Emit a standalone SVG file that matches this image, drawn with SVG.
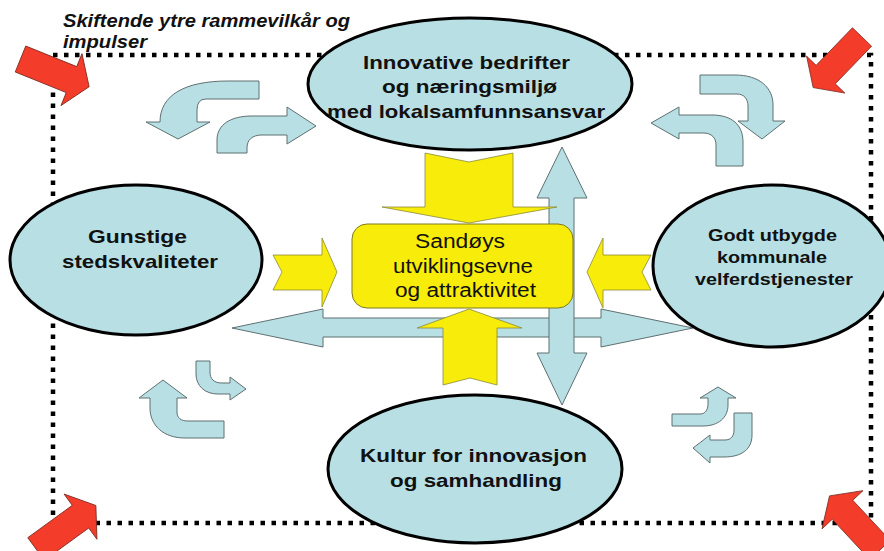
<svg xmlns="http://www.w3.org/2000/svg" width="884" height="551" viewBox="0 0 884 551">
<style>
.frame{fill:none;stroke:#000;stroke-width:4.5;stroke-dasharray:4.5 6.5}
.ell{fill:#b8dfe3;stroke:#000;stroke-width:3}
.blue{fill:#b8dfe3;stroke:#5f7072;stroke-width:1}
.yel{fill:#f8ec0a;stroke:#8a8a3a;stroke-width:0.8}
.box{fill:#f8ec0a;stroke:#7d7a20;stroke-width:1}
.red{fill:#f43c2a;stroke:#7a2a20;stroke-width:0.8}
.lbl{font-family:"Liberation Sans",Arial,sans-serif;font-weight:bold;font-size:19px;fill:#111;text-anchor:middle}
.ctr{font-family:"Liberation Sans",Arial,sans-serif;font-size:20px;fill:#111;text-anchor:middle}
.ttl{font-family:"Liberation Sans",Arial,sans-serif;font-weight:bold;font-style:italic;font-size:17.5px;fill:#111}
</style>
<defs>
<path id="redArrow" d="M0,-14 L55,-14 L55,-28 L74,0 L55,28 L55,14 L0,14 Z"/>
</defs>

<rect id="frame" class="frame" x="53" y="55" width="818" height="468"/>

<g id="title">
<text class="ttl" x="63" y="27" textLength="287" lengthAdjust="spacingAndGlyphs">Skiftende ytre rammevilkår og</text>
<text class="ttl" x="63" y="48" textLength="84" lengthAdjust="spacingAndGlyphs">impulser</text>
</g>

<g id="connectors">
<!-- cycle arrows -->
<path class="blue" d="M259,81 L259,99 L206,99 Q197,99 197,110 L197,122 L210,122 L178,139 L146,122 L160,122 C160,95 185,81 228,81 Z"/>
<path class="blue" d="M217,153 L217,140 C217,125 230,116 252,116 L287,116 L287,107 L316,126 L287,144 L287,135 L262,135 C252,135 247,140 247,148 L247,153 Z"/>
<path class="blue" d="M700,75 L735,75 C760,75 773,88 773,105 L773,121 L785,121 L762,139 L738,121 L748,121 L748,106 C748,99 744,94 737,94 L700,94 Z"/>
<path class="blue" d="M651,123 L679,107 L679,115 L712,115 C732,115 743,125 743,142 L743,166 L716,166 L716,145 C716,138 712,133 703,133 L679,133 L679,139 Z"/>
<path class="blue" d="M163,380 L187,398 L177,398 L177,412 C177,418 181,421 188,421 L224,421 L224,438 L185,438 C163,438 150,425 150,408 L150,398 L139,398 Z"/>
<path class="blue" d="M196,361 L210,361 L210,372 C210,379 214,383 222,383 L230,383 L230,377 L246,389 L230,400 L230,394 L218,394 C205,394 196,386 196,374 Z"/>
<path class="blue" d="M718,387 L736,398 L728,398 L728,405 C728,418 718,426 703,426 L672,426 L672,414 L700,414 C705,414 708,410 708,404 L708,398 L700,398 Z"/>
<path class="blue" d="M693,448 L710,435 L710,440 L725,440 C731,440 734,436 734,430 L734,413 L752,413 L752,435 C752,449 742,457 724,457 L710,457 L710,463 Z"/>
<!-- double arrows -->
<path class="blue" d="M232,328 L323,309 L323,318 L601,318 L601,309 L693,328 L601,347 L601,337 L323,337 L323,347 Z"/>
<path class="blue" d="M562,147 L587,198 L574,198 L574,353 L587,353 L562,405 L537,353 L549,353 L549,198 L537,198 Z"/>
<!-- yellow arrows -->
<path class="yel" d="M425,153 L469,162 L513,153 L513,207 L557,207 L469,223 L382,207 L425,207 Z"/>
<path class="yel" d="M469,309 L522,328 L497,328 L497,385 L470,378 L443,385 L443,328 L417,328 Z"/>
<path class="yel" d="M273,255 L322,255 L322,238 L337,272 L322,307 L322,290 L273,290 L282,272 Z"/>
<path class="yel" d="M651,255 L603,255 L603,238 L587,272 L603,308 L603,290 L651,290 L642,272 Z"/>
</g>

<g id="center">
<rect class="box" x="352" y="224" width="221" height="84" rx="15"/>
<text class="ctr" x="460" y="248" textLength="90" lengthAdjust="spacingAndGlyphs">Sandøys</text>
<text class="ctr" x="463" y="273" textLength="140" lengthAdjust="spacingAndGlyphs">utviklingsevne</text>
<text class="ctr" x="465.5" y="297" textLength="141" lengthAdjust="spacingAndGlyphs">og attraktivitet</text>
</g>

<g id="top-node">
<ellipse class="ell" cx="470" cy="84" rx="162" ry="66"/>
<text class="lbl" x="466.5" y="69" textLength="207" lengthAdjust="spacingAndGlyphs">Innovative bedrifter</text>
<text class="lbl" x="469.5" y="93" textLength="175" lengthAdjust="spacingAndGlyphs">og næringsmiljø</text>
<text class="lbl" x="466" y="118" textLength="278" lengthAdjust="spacingAndGlyphs">med lokalsamfunnsansvar</text>
</g>

<g id="left-node">
<ellipse class="ell" cx="136" cy="260" rx="126" ry="75"/>
<text class="lbl" x="137.5" y="243" textLength="99" lengthAdjust="spacingAndGlyphs">Gunstige</text>
<text class="lbl" x="140" y="268" textLength="156" lengthAdjust="spacingAndGlyphs">stedskvaliteter</text>
</g>

<g id="right-node">
<ellipse class="ell" cx="772" cy="266" rx="119" ry="81"/>
<text class="lbl" style="font-size:17px" x="772.5" y="241" textLength="129" lengthAdjust="spacingAndGlyphs">Godt utbygde</text>
<text class="lbl" style="font-size:17px" x="772" y="263" textLength="110" lengthAdjust="spacingAndGlyphs">kommunale</text>
<text class="lbl" style="font-size:17px" x="774" y="285" textLength="158" lengthAdjust="spacingAndGlyphs">velferdstjenester</text>
</g>

<g id="bottom-node">
<ellipse class="ell" cx="475" cy="469" rx="147" ry="74"/>
<text class="lbl" x="473.5" y="462" textLength="227" lengthAdjust="spacingAndGlyphs">Kultur for innovasjon</text>
<text class="lbl" x="476" y="487" textLength="172" lengthAdjust="spacingAndGlyphs">og samhandling</text>
</g>

<g id="impulses">
<use href="#redArrow" class="red" transform="translate(20.5,59) rotate(22)"/>
<use href="#redArrow" class="red" transform="translate(862,37) rotate(134) scale(0.95)"/>
<use href="#redArrow" class="red" transform="translate(36,549) rotate(-36)"/>
<use href="#redArrow" class="red" transform="translate(880,550) rotate(-133)"/>
</g>
</svg>
